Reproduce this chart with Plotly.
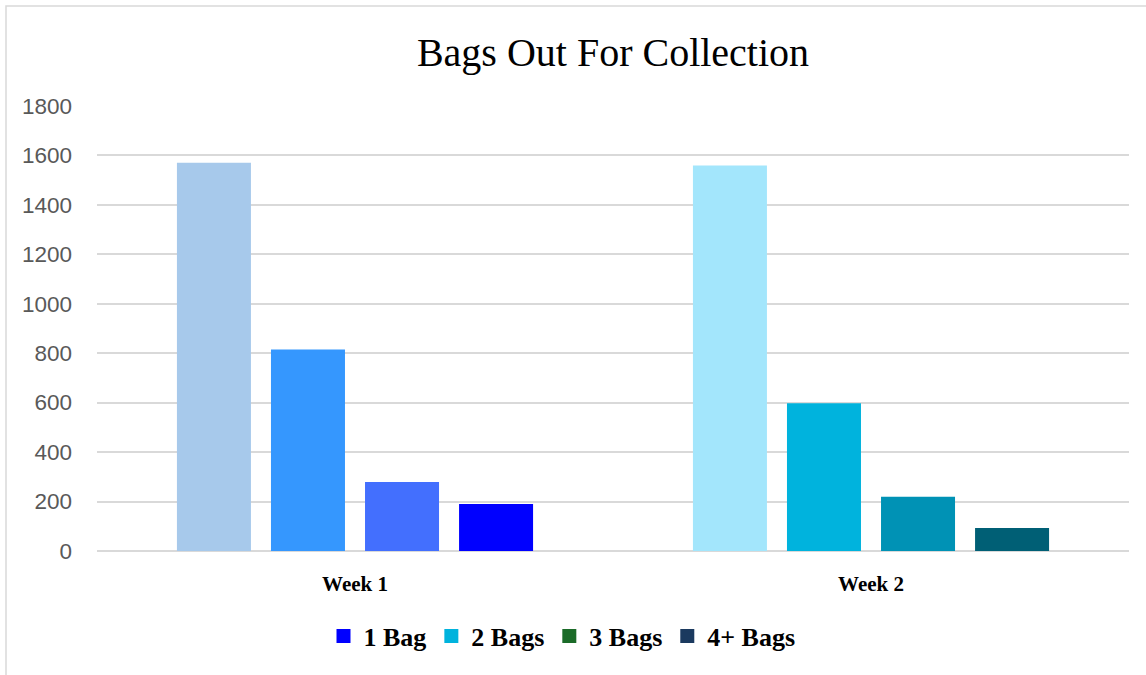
import plotly.graph_objects as go

# data
WEEKS = ["Week 1", "Week 2"]
SERIES = ["1 Bag", "2 Bags", "3 Bags", "4+ Bags"]
VALUES = {
    "1 Bag":   [1570, 1558],
    "2 Bags":  [815, 597],
    "3 Bags":  [279, 219],
    "4+ Bags": [190, 93],
}
# bar fill per week (Excel "vary colours" style) and legend swatches
BAR_COLORS = {
    "1 Bag":   ["#A7C9EB", "#A3E6FC"],
    "2 Bags":  ["#3597FE", "#00B3DD"],
    "3 Bags":  ["#436FFE", "#0092B5"],
    "4+ Bags": ["#0000FF", "#005F75"],
}
LEGEND_COLORS = {"1 Bag": "#0000FF", "2 Bags": "#00B3DD", "3 Bags": "#1B6B28", "4+ Bags": "#1B3A5F"}
Y_TICKS = [0, 200, 400, 600, 800, 1000, 1200, 1400, 1600, 1800]

SERIF = "Palatino Linotype, Book Antiqua, Palatino, Liberation Serif, serif"
SANS = "Liberation Sans, Arial, sans-serif"
W, H = 1146, 675
L, R, T, B = 97, 17, 105, 124

fig = go.Figure()

for s in SERIES:
    fig.add_trace(go.Bar(
        x=WEEKS, y=VALUES[s], name=s,
        marker=dict(color=BAR_COLORS[s], line=dict(width=0)),
        showlegend=False,
        hovertemplate=f"<b>%{{x}}</b> {s}: %{{y}}<extra></extra>",
    ))

# legend swatches (series colours differ from the point fills)
for s in SERIES:
    fig.add_trace(go.Scatter(
        x=[None], y=[None], name=s, mode="markers",
        marker=dict(symbol="square", size=14, color=LEGEND_COLORS[s]),
    ))

pw = W - L - R
ph = H - T - B
fig.add_shape(
    type="rect", xref="paper", yref="paper",
    x0=(6 - L) / pw, x1=(W + 20 - L) / pw,
    y0=-(B + 20) / ph, y1=(ph + T - 6) / ph,
    line=dict(color="#D9D9D9", width=1.5), fillcolor="rgba(0,0,0,0)", layer="below",
)

fig.update_layout(
    width=W, height=H,
    margin=dict(l=L, r=R, t=T, b=B, autoexpand=False),
    plot_bgcolor="white", paper_bgcolor="white",
    title=dict(text="Bags Out For Collection", x=0.5, xref="paper",
               y=1 - 52 / H, yref="container", yanchor="middle", xanchor="center",
               font=dict(family=SERIF, size=40, color="#000000")),
    barmode="group", bargap=0.271, bargroupgap=0.213,
    xaxis=dict(showgrid=False, showline=False, zeroline=False, ticks="",
               ticklabelstandoff=18,
               tickfont=dict(family=SERIF, size=21, color="#000000", weight="bold")),
    yaxis=dict(range=[0, 1803], tickvals=Y_TICKS, showgrid=True, gridcolor="#D9D9D9",
               gridwidth=1.5, zeroline=True, zerolinecolor="#D9D9D9", zerolinewidth=1.5,
               showline=False, ticks="", ticklabelstandoff=24,
               tickfont=dict(family=SANS, size=22.5, color="#595959")),
    legend=dict(orientation="h", x=(562 - L) / pw, xanchor="center",
                y=(551 - 636) / ph, yanchor="middle", entrywidth=0,
                itemwidth=30, font=dict(family=SERIF, size=26, color="#000000", weight="bold"),
                bgcolor="rgba(0,0,0,0)"),
    hovermode="closest",
)

# drop the page's default body margin so the figure sits at the window origin
fig.write_html("out.html", config={"displayModeBar": False},
               post_script="document.body.style.margin='0';")
